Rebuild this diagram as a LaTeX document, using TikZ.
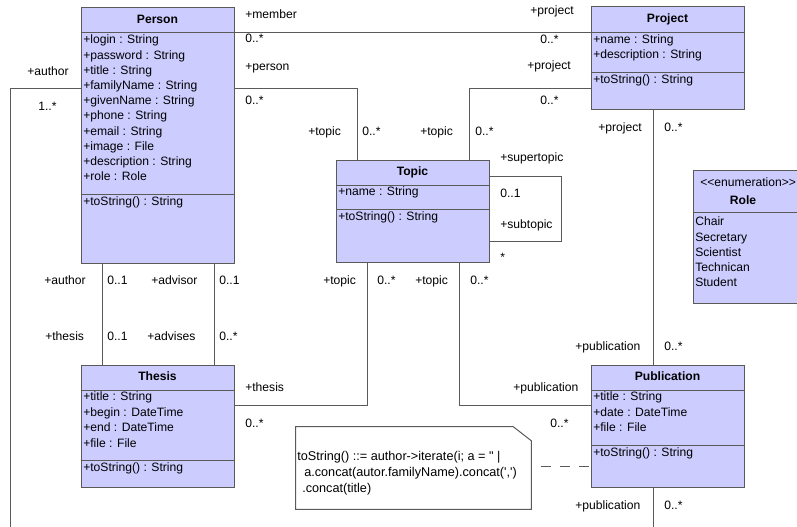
\documentclass[tikz,border=0pt]{standalone}
\usepackage{fontspec}
\newfontfamily\uml{Liberation Sans}
\usetikzlibrary{fit,calc}
\definecolor{boxfill}{HTML}{CCCCFF}
\definecolor{edge}{HTML}{5A5A5A}
\begin{document}
\begin{tikzpicture}[x=0.75pt,y=-0.75pt,
  every node/.style={font=\uml\fontsize{9.1}{11}\selectfont},
  cls/.style={draw=edge,fill=boxfill,line width=0.75pt,inner sep=0pt},
  notebox/.style={inner sep=0pt},
  lbl/.style={anchor=base west,inner sep=0pt,text=black,yshift=-3pt},
  notetxt/.style={lbl,yshift=-0.3pt,font=\uml\fontsize{9.5}{11}\selectfont},
  hdr/.style={anchor=base,inner sep=0pt,yshift=-3pt,font=\uml\bfseries\fontsize{9.1}{11}\selectfont},
  conn/.style={draw=edge,line width=0.75pt},
  div/.style={draw=edge,line width=0.75pt}]
\useasboundingbox (0,0) rectangle (797,527);
\clip (0,0) rectangle (797,527);
\fill[white] (0,0) rectangle (797,527);

\coordinate (authEnd) at (10,527);
\coordinate (pubEnd) at (653,527);

% ---------- classes ----------
\node[cls,fit={(81,8) (234,264)}] (person) {};
\node[cls,fit={(591,7) (744,110)}] (project) {};
\node[cls,fit={(336,161) (489,263)}] (topic) {};
\node[cls,fit={(81,366) (234,488)}] (thesis) {};
\node[cls,fit={(591,366) (744,488)}] (publication) {};
\node[cls,fit={(693,171) (810,304)}] (role) {};
\node[notebox,fit={(296,427) (531,509)}] (note) {};

% ---------- connectors ----------
\draw[conn] (person.east |- 0,33) -- (project.west |- 0,33);
\draw[conn] (person.east |- 0,89) -| (357,0 |- topic.north);
\draw[conn] (project.west |- 0,89) -| (469,0 |- topic.north);
\draw[conn] (653,0 |- project.south) -- (653,0 |- publication.north);
\draw[conn] (topic.east |- 0,177) -- (561,177) -- (561,242) -- (topic.east |- 0,242);
\draw[conn] (102,0 |- person.south) -- (102,0 |- thesis.north);
\draw[conn] (214,0 |- person.south) -- (214,0 |- thesis.north);
\draw[conn] (367,0 |- topic.south) |- (thesis.east |- 0,406);
\draw[conn] (459,0 |- topic.south) |- (publication.west |- 0,406);
\draw[conn] (person.west |- 0,89) -| (authEnd);
\draw[conn] (653,0 |- publication.south) -- (pubEnd);
\draw[conn,dash pattern=on 7.5pt off 7pt,dash phase=-7pt] (note.east |- 0,467) -- (publication.west |- 0,467);

% note shape
\draw[draw=edge,fill=white,line width=0.75pt] (note.south west) -- (note.north west) -- ($(note.north east)+(-18,0)$) -- ($(note.north east)+(0,14)$) -- (note.south east) -- cycle;

% ---------- compartments ----------
\draw[div] (person.west |- 0,33) -- (person.east |- 0,33);
\draw[div] (person.west |- 0,195) -- (person.east |- 0,195);
\draw[div] (project.west |- 0,33) -- (project.east |- 0,33);
\draw[div] (project.west |- 0,73) -- (project.east |- 0,73);
\draw[div] (topic.west |- 0,186) -- (topic.east |- 0,186);
\draw[div] (topic.west |- 0,210) -- (topic.east |- 0,210);
\draw[div] (thesis.west |- 0,391) -- (thesis.east |- 0,391);
\draw[div] (thesis.west |- 0,461) -- (thesis.east |- 0,461);
\draw[div] (publication.west |- 0,391) -- (publication.east |- 0,391);
\draw[div] (publication.west |- 0,446) -- (publication.east |- 0,446);
\draw[div] (role.west |- 0,213) -- (role.east |- 0,213);

% ---------- class texts ----------
\node[hdr] (personH) at (157.5,20) {Person};
\node[lbl] (p1) at (83,40) {+login : String};
\node[lbl] (p2) at (83,55.2) {+password : String};
\node[lbl] (p3) at (83,70.4) {+title : String};
\node[lbl] (p4) at (83,85.6) {+familyName : String};
\node[lbl] (p5) at (83,100.8) {+givenName : String};
\node[lbl] (p6) at (83,116) {+phone : String};
\node[lbl] (p7) at (83,131.2) {+email : String};
\node[lbl] (p8) at (83,146.4) {+image : File};
\node[lbl] (p9) at (83,161.6) {+description : String};
\node[lbl] (p10) at (83,176.8) {+role : Role};
\node[lbl] (pm) at (83,202) {+toString() : String};

\node[hdr] (projectH) at (667.5,19) {Project};
\node[lbl] (pr1) at (593,40) {+name : String};
\node[lbl] (pr2) at (593,55) {+description : String};
\node[lbl] (prm) at (593,80) {+toString() : String};

\node[hdr] (topicH) at (412.5,172) {Topic};
\node[lbl] (t1) at (338,192) {+name : String};
\node[lbl] (tm) at (338,217) {+toString() : String};

\node[hdr] (thesisH) at (157.5,377) {Thesis};
\node[lbl] (th1) at (83,397) {+title : String};
\node[lbl] (th2) at (83,412.5) {+begin : DateTime};
\node[lbl] (th3) at (83,428) {+end : DateTime};
\node[lbl] (th4) at (83,443.5) {+file : File};
\node[lbl] (thm) at (83,468) {+toString() : String};

\node[hdr] (pubH) at (667.5,377) {Publication};
\node[lbl] (pu1) at (593,397) {+title : String};
\node[lbl] (pu2) at (593,412.5) {+date : DateTime};
\node[lbl] (pu3) at (593,428) {+file : File};
\node[lbl] (pum) at (593,453) {+toString() : String};

\node[lbl] (roleS) at (700,183) {<\kern0pt<enumeration>\kern0pt>};
\node[hdr] (roleH) at (743,201) {Role};
\node[lbl] (r1) at (695,222) {Chair};
\node[lbl] (r2) at (695,237.2) {Secretary};
\node[lbl] (r3) at (695,252.4) {Scientist};
\node[lbl] (r4) at (695,267.6) {Technican};
\node[lbl] (r5) at (695,282.8) {Student};

% note text
\node[notetxt] (n1) at (297,456) {toString() ::= author->iterate(i; a = " |};
\node[notetxt] (n2) at (304,472) {a.concat(autor.familyName).concat(\char"27,\char"27)};
\node[notetxt] (n3) at (302,488) {.concat(title)};

% ---------- role / multiplicity labels ----------
\node[lbl] (l1) at (245,15) {+member};
\node[lbl] (l2) at (245,39) {0..*};
\node[lbl] (l3) at (245,67) {+person};
\node[lbl] (l4) at (245,101) {0..*};
\node[lbl] (l5) at (530,11) {+project};
\node[lbl] (l6) at (540,40) {0..*};
\node[lbl] (l7) at (527,66) {+project};
\node[lbl] (l8) at (540,101) {0..*};
\node[lbl] (l9) at (598,128) {+project};
\node[lbl] (l10) at (664,128) {0..*};
\node[lbl] (l11) at (27,72) {+author};
\node[lbl] (l12) at (38,107) {1..*};
\node[lbl] (l13) at (308,132) {+topic};
\node[lbl] (l14) at (362,132) {0..*};
\node[lbl] (l15) at (420,132) {+topic};
\node[lbl] (l16) at (475,132) {0..*};
\node[lbl] (l17) at (500,158) {+supertopic};
\node[lbl] (l18) at (500,194) {0..1};
\node[lbl] (l19) at (500,225) {+subtopic};
\node[lbl] (l20) at (500,258) {*};
\node[lbl] (l21) at (323,281) {+topic};
\node[lbl] (l22) at (377,281) {0..*};
\node[lbl] (l23) at (415,281) {+topic};
\node[lbl] (l24) at (470,281) {0..*};
\node[lbl] (l25) at (44,281) {+author};
\node[lbl] (l26) at (107,281) {0..1};
\node[lbl] (l27) at (151,281) {+advisor};
\node[lbl] (l28) at (219,281) {0..1};
\node[lbl] (l29) at (45,337) {+thesis};
\node[lbl] (l30) at (107,337) {0..1};
\node[lbl] (l31) at (147,337) {+advises};
\node[lbl] (l32) at (219,337) {0..*};
\node[lbl] (l33) at (245,388) {+thesis};
\node[lbl] (l34) at (245,424) {0..*};
\node[lbl] (l35) at (513,388) {+publication};
\node[lbl] (l36) at (550,424) {0..*};
\node[lbl] (l37) at (575,347) {+publication};
\node[lbl] (l38) at (664,347) {0..*};
\node[lbl] (l39) at (575,506) {+publication};
\node[lbl] (l40) at (664,506) {0..*};
\end{tikzpicture}
\end{document}
